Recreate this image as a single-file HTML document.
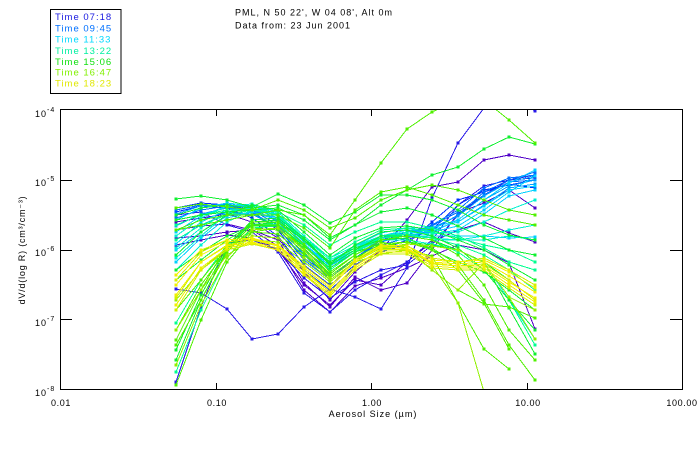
<!DOCTYPE html>
<html><head><meta charset="utf-8"><style>
html,body{margin:0;padding:0;background:#fff;}
svg{display:block;}
text{font-family:"Liberation Sans",sans-serif;fill:#000;}
.ln path{fill:none;stroke-width:1;shape-rendering:crispEdges;}
</style></head><body>
<svg width="700" height="450" viewBox="0 0 700 450" xmlns="http://www.w3.org/2000/svg">
<defs>
<clipPath id="pc"><rect x="60" y="110" width="622" height="279"/></clipPath>
<marker id="a" markerUnits="userSpaceOnUse" markerWidth="3" markerHeight="3" refX="1.5" refY="1.5"><rect width="3" height="3" fill="#5000c8"/></marker>
<marker id="b" markerUnits="userSpaceOnUse" markerWidth="3" markerHeight="3" refX="1.5" refY="1.5"><rect width="3" height="3" fill="#2818e8"/></marker>
<marker id="c" markerUnits="userSpaceOnUse" markerWidth="3" markerHeight="3" refX="1.5" refY="1.5"><rect width="3" height="3" fill="#0030ff"/></marker>
<marker id="d" markerUnits="userSpaceOnUse" markerWidth="3" markerHeight="3" refX="1.5" refY="1.5"><rect width="3" height="3" fill="#0070ff"/></marker>
<marker id="e" markerUnits="userSpaceOnUse" markerWidth="3" markerHeight="3" refX="1.5" refY="1.5"><rect width="3" height="3" fill="#00a0ff"/></marker>
<marker id="f" markerUnits="userSpaceOnUse" markerWidth="3" markerHeight="3" refX="1.5" refY="1.5"><rect width="3" height="3" fill="#00d0ff"/></marker>
<marker id="g" markerUnits="userSpaceOnUse" markerWidth="3" markerHeight="3" refX="1.5" refY="1.5"><rect width="3" height="3" fill="#00f0d0"/></marker>
<marker id="h" markerUnits="userSpaceOnUse" markerWidth="3" markerHeight="3" refX="1.5" refY="1.5"><rect width="3" height="3" fill="#00ff90"/></marker>
<marker id="i" markerUnits="userSpaceOnUse" markerWidth="3" markerHeight="3" refX="1.5" refY="1.5"><rect width="3" height="3" fill="#10f030"/></marker>
<marker id="j" markerUnits="userSpaceOnUse" markerWidth="3" markerHeight="3" refX="1.5" refY="1.5"><rect width="3" height="3" fill="#50f000"/></marker>
<marker id="k" markerUnits="userSpaceOnUse" markerWidth="3" markerHeight="3" refX="1.5" refY="1.5"><rect width="3" height="3" fill="#90f000"/></marker>
<marker id="l" markerUnits="userSpaceOnUse" markerWidth="3" markerHeight="3" refX="1.5" refY="1.5"><rect width="3" height="3" fill="#d0f000"/></marker>
<marker id="n" markerUnits="userSpaceOnUse" markerWidth="3" markerHeight="3" refX="1.5" refY="1.5"><rect width="3" height="3" fill="#f0f000"/></marker>
</defs>

<rect x="50.5" y="9.5" width="70.5" height="84" fill="#fff" stroke="#000"/>
<g font-size="9.5" letter-spacing="1">
<text x="55" y="20" style="fill:#1818e0">Time 07:18</text>
<text x="55" y="31.3" style="fill:#0070ff">Time 09:45</text>
<text x="55" y="42.6" style="fill:#00d8ff">Time 11:33</text>
<text x="55" y="54" style="fill:#00f0a0">Time 13:22</text>
<text x="55" y="65" style="fill:#10e010">Time 15:06</text>
<text x="55" y="75.6" style="fill:#80f000">Time 16:47</text>
<text x="55" y="86.6" style="fill:#e0e800">Time 18:23</text>
</g>
<g font-size="9" letter-spacing="1">
<text x="235" y="15.5">PML, N 50 22', W 04 08', Alt 0m</text>
<text x="235" y="28.7">Data from: 23 Jun 2001</text>
</g>

<g class="ln" clip-path="url(#pc)">
<path stroke="#5000c8" style="marker:url(#a)" d="M176 238L201 236 227 232 252 230 278 240 304 283 330 307 355 277 381 290 407 283 432 250 458 213 484 203 509 190 535 208M176 222L201 218 227 214 252 222 278 238 304 272 330 300 355 272 381 250 407 220 432 187 458 182 484 160 509 155 535 160M176 230L201 226 227 224 252 230 278 246 304 290 330 312 355 286 381 278 407 268 432 256 458 245 484 250 509 263 535 329M176 245L201 240 227 235 252 238 278 250 304 285 330 305 355 280 381 285 407 262 432 242 458 230 484 222 509 233 535 242"/>
<path stroke="#2818e8" style="marker:url(#b)" d="M176 289L201 293 227 309 252 339 278 334 304 307 330 289 355 297 381 309 407 268 432 198 458 143 484 108 509 95 535 111M176 382L201 307 227 243 252 240 278 250 304 278 330 298 355 282 381 270 407 265 432 245 458 215 484 195 509 180 535 178M176 215L201 212 227 225 252 232 278 252 304 293 330 312 355 290 381 275 407 262 432 240 458 205 484 186 509 180 535 175"/>
<path stroke="#0030ff" style="marker:url(#c)" d="M176 208L201 203 227 205 252 212 278 230 304 265 330 285 355 265 381 250 407 240 432 230 458 205 484 190 509 185 535 180M176 212L201 206 227 208 252 218 278 236 304 270 330 290 355 268 381 252 407 244 432 222 458 200 484 192 509 184 535 188"/>
<path stroke="#0070ff" style="marker:url(#d)" d="M176 210L201 205 227 205 252 210 278 225 304 255 330 278 355 258 381 242 407 235 432 225 458 210 484 188 509 178 535 175M176 218L201 210 227 206 252 212 278 228 304 260 330 280 355 262 381 245 407 238 432 230 458 215 484 192 509 180 535 172M176 230L201 220 227 212 252 214 278 228 304 258 330 276 355 258 381 240 407 232 432 226 458 212 484 195 509 182 535 180"/>
<path stroke="#00a0ff" style="marker:url(#e)" d="M176 214L201 206 227 204 252 208 278 222 304 250 330 270 355 252 381 238 407 232 432 228 458 216 484 196 509 182 535 176M176 240L201 225 227 214 252 214 278 226 304 254 330 274 355 255 381 240 407 236 432 232 458 220 484 200 509 186 535 180M176 226L201 214 227 208 252 210 278 220 304 246 330 266 355 250 381 236 407 232 432 230 458 222 484 205 509 188 535 184"/>
<path stroke="#00d0ff" style="marker:url(#f)" d="M176 220L201 208 227 203 252 206 278 216 304 242 330 262 355 246 381 233 407 228 432 228 458 220 484 200 509 183 535 170M176 250L201 232 227 216 252 212 278 220 304 246 330 266 355 250 381 236 407 230 432 230 458 222 484 206 509 190 535 186M176 232L201 216 227 206 252 206 278 214 304 240 330 262 355 248 381 236 407 232 432 232 458 226 484 210 509 192 535 176M176 262L201 238 227 218 252 212 278 218 304 244 330 264 355 250 381 238 407 234 432 234 458 230 484 214 509 196 535 190M176 244L201 222 227 210 252 208 278 218 304 244 330 266 355 252 381 240 407 236 432 236 458 236 484 236 509 238 535 237"/>
<path stroke="#00f0d0" style="marker:url(#g)" d="M176 236L201 218 227 206 252 204 278 212 304 236 330 258 355 246 381 236 407 232 432 234 458 232 484 222 509 210 535 200M176 258L201 236 227 214 252 206 278 212 304 236 330 258 355 246 381 238 407 236 432 240 458 240 484 236 509 230 535 225M176 270L201 245 227 222 252 210 278 214 304 238 330 260 355 248 381 238 407 236 432 238 458 240 484 240 509 236 535 240M176 248L201 228 227 212 252 208 278 216 304 240 330 262 355 250 381 240 407 240 432 244 458 250 484 262 509 300 535 339"/>
<path stroke="#00ff90" style="marker:url(#h)" d="M176 240L201 225 227 215 252 210 278 215 304 238 330 258 355 242 381 230 407 228 432 232 458 238 484 245 509 250 535 262M176 372L201 310 227 258 252 228 278 226 304 245 330 270 355 252 381 236 407 234 432 238 458 245 484 255 509 270 535 290M176 323L201 280 227 245 252 224 278 224 304 246 330 270 355 252 381 238 407 236 432 240 458 252 484 270 509 300 535 345M176 225L201 215 227 210 252 210 278 212 304 225 330 245 355 232 381 222 407 222 432 228 458 236 484 248 509 262 535 270"/>
<path stroke="#10f030" style="marker:url(#i)" d="M176 199L201 196 227 200 252 207 278 194 304 205 330 223 355 212 381 195 407 195 432 200 458 210 484 225 509 235 535 240M176 220L201 215 227 212 252 210 278 208 304 220 330 240 355 225 381 205 407 190 432 175 458 167 484 149 509 137 535 144M176 255L201 232 227 215 252 205 278 210 304 232 330 255 355 238 381 228 407 226 432 230 458 240 484 250 509 265 535 280M176 360L201 300 227 250 252 222 278 220 304 240 330 265 355 250 381 236 407 236 432 240 458 250 484 262 509 280 535 300M176 350L201 295 227 248 252 220 278 218 304 238 330 264 355 245 381 232 407 230 432 236 458 248 484 270 509 300 535 330M176 280L201 260 227 240 252 225 278 222 304 240 330 262 355 248 381 240 407 238 432 250 458 262 484 272 509 290 535 310M176 215L201 208 227 205 252 208 278 205 304 215 330 238 355 225 381 212 407 208 432 215 458 226 484 238 509 250 535 255M176 270L201 252 227 236 252 226 278 226 304 246 330 268 355 252 381 244 407 242 432 245 458 250 484 262 509 308 535 354"/>
<path stroke="#50f000" style="marker:url(#j)" d="M176 208L201 204 227 207 252 210 278 200 304 210 330 228 355 218 381 200 407 190 432 185 458 190 484 200 509 210 535 215M176 230L201 225 227 220 252 215 278 210 304 215 330 235 355 200 381 163 407 129 432 112 458 100 484 100 509 120 535 143M176 340L201 290 227 245 252 222 278 222 304 244 330 272 355 255 381 240 407 236 432 240 458 255 484 285 509 330 535 360M176 330L201 285 227 250 252 225 278 225 304 248 330 276 355 258 381 244 407 242 432 248 458 265 484 300 509 345 535 380M176 345L201 300 227 252 252 228 278 230 304 252 330 280 355 262 381 246 407 242 432 250 458 270 484 303 509 349M176 385L201 320 227 262 252 232 278 228 304 248 330 274 355 255 381 242 407 248 432 270 458 290 484 304 509 307 535 318M176 310L201 280 227 248 252 232 278 234 304 255 330 276 355 258 381 248 407 250 432 256 458 303 484 349 509 369M176 230L201 220 227 215 252 215 278 215 304 228 330 248 355 210 381 192 407 187 432 195 458 205 484 215 509 220 535 225"/>
<path stroke="#90f000" style="marker:url(#k)" d="M176 365L201 305 227 258 252 230 278 228 304 250 330 278 355 260 381 248 407 245 432 265 458 303 484 392 509 440M176 300L201 270 227 248 252 236 278 238 304 258 330 280 355 262 381 248 407 244 432 246 458 250 484 263 509 297 535 310M176 330L201 290 227 255 252 240 278 242 304 262 330 282 355 262 381 254 407 250 432 270 458 290 484 263 509 297 535 339"/>
<path stroke="#d0f000" style="marker:url(#l)" d="M176 280L201 252 227 240 252 238 278 245 304 268 330 288 355 262 381 246 407 246 432 258 458 262 484 258 509 270 535 285M176 298L201 262 227 245 252 240 278 246 304 270 330 292 355 266 381 250 407 250 432 264 458 266 484 264 509 280 535 300M176 310L201 270 227 250 252 244 278 250 304 275 330 296 355 270 381 254 407 254 432 268 458 270 484 270 509 288 535 305"/>
<path stroke="#f0f000" style="marker:url(#n)" d="M176 285L201 255 227 242 252 239 278 246 304 268 330 288 355 262 381 247 407 248 432 262 458 264 484 262 509 276 535 292M176 295L201 262 227 246 252 242 278 248 304 272 330 292 355 266 381 249 407 249 432 263 458 266 484 266 509 282 535 298M176 305L201 268 227 248 252 243 278 250 304 274 330 294 355 268 381 252 407 252 432 266 458 268 484 268 509 285 535 302M176 275L201 250 227 240 252 238 278 245 304 266 330 286 355 260 381 245 407 246 432 260 458 262 484 260 509 272 535 288"/>
</g>

<g stroke="#000" fill="none" shape-rendering="crispEdges">
<rect x="60.5" y="109.5" width="622" height="280"/>
<path d="M60 180.5h12M60 250.5h12M60 319.5h12M670 180.5h12M670 250.5h12M670 319.5h12M216.5 389v-6M371.5 389v-6M527.5 389v-6M216.5 110v6M371.5 110v6M527.5 110v6"/>
</g>

<g font-size="9" letter-spacing="1">
<text x="35" y="117">10<tspan font-size="7" dy="-5">-4</tspan></text>
<text x="35" y="186">10<tspan font-size="7" dy="-5">-5</tspan></text>
<text x="35" y="256">10<tspan font-size="7" dy="-5">-6</tspan></text>
<text x="35" y="326">10<tspan font-size="7" dy="-5">-7</tspan></text>
<text x="35" y="396">10<tspan font-size="7" dy="-5">-8</tspan></text>
</g>
<g font-size="9" letter-spacing="0.6" text-anchor="middle">
<text x="61" y="406">0.01</text>
<text x="217" y="406">0.10</text>
<text x="372" y="406">1.00</text>
<text x="528" y="406">10.00</text>
<text x="682" y="406">100.00</text>
</g>
<text x="373" y="417" font-size="9" letter-spacing="1" text-anchor="middle">Aerosol Size (µm)</text>
<text transform="translate(25,250) rotate(-90)" font-size="9" letter-spacing="0.8" text-anchor="middle">dV/d(log R) (cm³/cm⁻³)</text>
</svg>
</body></html>
